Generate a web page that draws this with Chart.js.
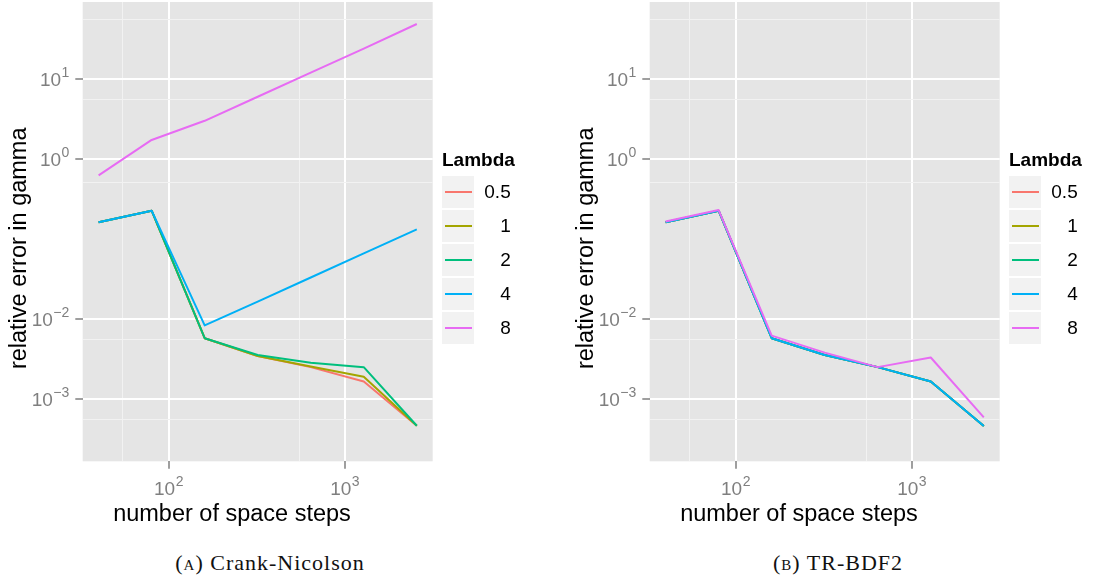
<!DOCTYPE html>
<html><head><meta charset="utf-8">
<script src="https://cdn.jsdelivr.net/npm/chart.js@4/dist/chart.umd.min.js"></script>
<style>
html,body{margin:0;padding:0;background:#fff;width:1098px;height:578px;overflow:hidden;position:relative}
canvas{position:absolute;top:0}
.cap{position:absolute;top:552px;font-family:"Liberation Serif","Times New Roman",serif;font-size:22px;line-height:22px;letter-spacing:1px;color:#111;transform:translateX(-50%);white-space:nowrap}
.sc{font-variant:small-caps}
</style></head><body>
<canvas id="c1" width="530" height="530" style="left:0"></canvas>
<canvas id="c2" width="530" height="530" style="left:567px"></canvas>
<div class="cap" style="left:270px">(<span class="sc">a</span>) Crank-Nicolson</div>
<div class="cap" style="left:838px">(<span class="sc">b</span>) TR-BDF2</div>
<script>
// ---- data ----
const spaceSteps = [40, 80, 160, 320, 640, 1280, 2560];
const lambdaLabels = ['0.5', '1', '2', '4', '8'];
const lambdaColors = ['#F8766D', '#A3A500', '#00BF7D', '#00B0F6', '#E76BF3'];

// Crank-Nicolson
const cnL05 = [0.162, 0.226, 0.00575, 0.00345, 0.0025, 0.00165, 0.000463];
const cnL1  = [0.162, 0.226, 0.00575, 0.00345, 0.00254, 0.0019, 0.000463];
const cnL2  = [0.162, 0.226, 0.00575, 0.00355, 0.00284, 0.0025, 0.000463];
const cnL4  = [0.162, 0.226, 0.0083, 0.0165, 0.033, 0.066, 0.132];
const cnL8  = [0.625, 1.73, 3.0, 6.0, 12.0, 24.0, 48.7];

// TR-BDF2
const trL05 = [0.162, 0.226, 0.00575, 0.00355, 0.0025, 0.00165, 0.00046];
const trL1  = [0.162, 0.226, 0.00575, 0.00355, 0.0025, 0.00165, 0.00046];
const trL2  = [0.162, 0.226, 0.00575, 0.00355, 0.0025, 0.00165, 0.00046];
const trL4  = [0.162, 0.226, 0.00575, 0.00355, 0.0025, 0.00165, 0.00046];
const trL8  = [0.165, 0.23, 0.0062, 0.0038, 0.0025, 0.0033, 0.00059];

// axes
const xMajorTicks = [100, 1000];
const xTickExponents = ['2', '3'];
const xMinorTicks = [55, 550];
const yMajorTicks = [0.001, 0.01, 1, 10];
const yTickExponents = ['\u22123', '\u22122', '0', '1'];
const yMinorTicks = [0.00055, 0.0055, 0.505, 5.5, 55];
const tickBase = '10';
const xRange = [32.49, 3151.5];
const yRange = [1.663e-4, 91.7];

const xTitle = 'number of space steps';
const yTitle = 'relative error in gamma';
const legendTitle = 'Lambda';

const FONT = '"Liberation Sans", Arial, Helvetica, sans-serif';
Chart.defaults.font.family = FONT;

const BASE_FONT = '19px ' + FONT;
const EXP_FONT = '14px ' + FONT;
const TICK_COLOR = '#7F7F7F';

const decor = {
  id: 'decor',
  beforeDraw(chart) {
    const {ctx, chartArea: a} = chart;
    ctx.save();
    ctx.fillStyle = '#E5E5E5';
    ctx.fillRect(a.left, a.top, a.right - a.left, a.bottom - a.top);
    ctx.restore();
  },
  afterDraw(chart) {
    const {ctx, chartArea: a} = chart;
    const xs = chart.scales.x, ys = chart.scales.y;
    // tick labels with superscript exponents
    ctx.save();
    ctx.fillStyle = TICK_COLOR;
    ctx.textBaseline = 'alphabetic';
    ctx.textAlign = 'left';
    const measure = (exp) => {
      ctx.font = BASE_FONT; const wb = ctx.measureText(tickBase).width;
      ctx.font = EXP_FONT; const we = ctx.measureText(exp).width;
      return [wb, we];
    };
    const drawLabel = (x0, baseY, exp, wb) => {
      ctx.font = BASE_FONT; ctx.fillText(tickBase, x0, baseY);
      ctx.font = EXP_FONT; ctx.fillText(exp, x0 + wb + 0.5, baseY - 9);
    };
    yMajorTicks.forEach((v, i) => {
      const py = ys.getPixelForValue(v);
      const [wb, we] = measure(yTickExponents[i]);
      const right = a.left - 13.4;
      drawLabel(right - wb - we - 0.5, py + 7.2, yTickExponents[i], wb);
    });
    xMajorTicks.forEach((v, i) => {
      const px = xs.getPixelForValue(v);
      const [wb, we] = measure(xTickExponents[i]);
      const w = wb + we + 0.5;
      drawLabel(px - w / 2, a.bottom + 33.7, xTickExponents[i], wb);
    });
    ctx.restore();
    // axis titles
    ctx.save();
    ctx.fillStyle = '#000';
    ctx.font = '23.5px ' + FONT;
    ctx.textAlign = 'center';
    ctx.textBaseline = 'alphabetic';
    ctx.fillText(xTitle, 232, 521);
    ctx.translate(26.3, 248.3);
    ctx.rotate(-Math.PI / 2);
    ctx.fillText(yTitle, 0, 0);
    ctx.restore();
    // legend
    ctx.save();
    const lx = a.right + 9.3;
    ctx.fillStyle = '#000';
    ctx.font = 'bold 19px ' + FONT;
    ctx.textAlign = 'left';
    ctx.textBaseline = 'middle';
    ctx.fillText(legendTitle, lx, 161);
    ctx.font = '19px ' + FONT;
    lambdaLabels.forEach((lab, i) => {
      const ky = 176 + i * 34;
      ctx.fillStyle = '#F2F2F2';
      ctx.fillRect(lx, ky, 32, 32);
      ctx.strokeStyle = lambdaColors[i];
      ctx.lineWidth = 2;
      ctx.beginPath();
      ctx.moveTo(lx + 3, ky + 16);
      ctx.lineTo(lx + 30, ky + 16);
      ctx.stroke();
      ctx.fillStyle = '#000';
      ctx.textAlign = 'right';
      ctx.fillText(lab, lx + 68.7, ky + 16.5);
    });
    ctx.restore();
  }
};

function makeChart(id, series) {
  const datasets = series.map((vals, i) => ({
    label: lambdaLabels[i],
    data: spaceSteps.map((s, j) => ({x: s, y: vals[j]})),
    borderColor: lambdaColors[i],
    backgroundColor: lambdaColors[i],
    borderWidth: 2,
    pointRadius: 0,
    tension: 0,
    fill: false,
    borderJoinStyle: 'round',
    order: series.length - i
  }));
  const isMajorX = v => xMajorTicks.includes(v);
  const isMajorY = v => yMajorTicks.includes(v);
  return new Chart(document.getElementById(id), {
    type: 'line',
    data: {datasets},
    options: {
      responsive: false,
      animation: false,
      events: [],
      layout: {padding: {left: 0, right: 97.3, top: 2, bottom: 0}},
      plugins: {legend: {display: false}, tooltip: {enabled: false}},
      scales: {
        x: {
          type: 'logarithmic',
          min: xRange[0], max: xRange[1],
          bounds: 'data',
          afterBuildTicks: s => {
            s.ticks = xMinorTicks.concat(xMajorTicks).sort((a, b) => a - b).map(v => ({value: v, major: isMajorX(v)}));
          },
          afterFit: s => { s.height = 68.7; s.paddingLeft = 0; s.paddingRight = 0; },
          border: {display: false},
          grid: {
            color: c => (c.tick && isMajorX(c.tick.value)) ? '#FFFFFF' : '#F2F2F2',
            lineWidth: c => (c.tick && isMajorX(c.tick.value)) ? 2 : 1,
            drawTicks: true,
            tickLength: 7.4,
            tickWidth: 1.5,
            tickColor: c => (c.tick && isMajorX(c.tick.value)) ? TICK_COLOR : 'rgba(0,0,0,0)'
          },
          ticks: {display: false, autoSkip: false, maxRotation: 0, minRotation: 0}
        },
        y: {
          type: 'logarithmic',
          min: yRange[0], max: yRange[1],
          bounds: 'data',
          afterBuildTicks: s => {
            s.ticks = yMinorTicks.concat(yMajorTicks).sort((a, b) => a - b).map(v => ({value: v, major: isMajorY(v)}));
          },
          afterFit: s => { s.width = 82.7; s.paddingTop = 0; s.paddingBottom = 0; },
          border: {display: false},
          grid: {
            color: c => (c.tick && isMajorY(c.tick.value)) ? '#FFFFFF' : '#F2F2F2',
            lineWidth: c => (c.tick && isMajorY(c.tick.value)) ? 2 : 1,
            drawTicks: true,
            tickLength: 7.4,
            tickWidth: 1.5,
            tickColor: c => (c.tick && isMajorY(c.tick.value)) ? TICK_COLOR : 'rgba(0,0,0,0)'
          },
          ticks: {display: false, autoSkip: false}
        }
      }
    },
    plugins: [decor]
  });
}

makeChart('c1', [cnL05, cnL1, cnL2, cnL4, cnL8]);
makeChart('c2', [trL05, trL1, trL2, trL4, trL8]);
</script>
</body></html>
